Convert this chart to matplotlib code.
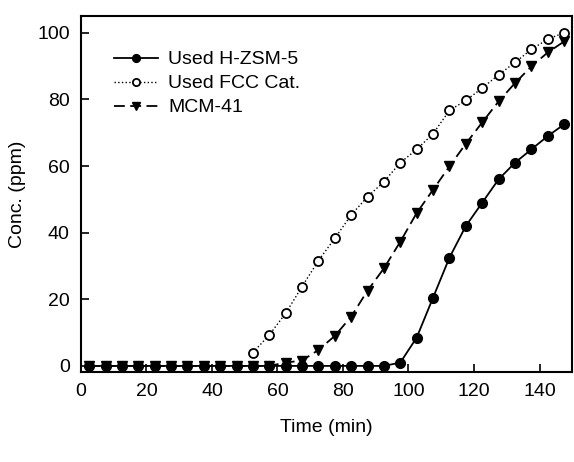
import matplotlib
matplotlib.use("Agg")
import matplotlib.pyplot as plt
import numpy as np

plt.rcParams['font.family'] = ['Liberation Sans', 'DejaVu Sans']

time = [2.5 + 5 * i for i in range(30)]

hzsm5 = [0] * 19 + [1, 8.5, 20.5, 32.5, 42, 49, 56, 61, 65, 69, 72.5]
fcc_t = time[10:]
fcc = [4, 9.3, 15.8, 23.8, 31.6, 38.3, 45.3, 50.8, 55.3, 61, 65, 69.7,
       76.7, 79.7, 83.4, 87.4, 91.1, 95, 98.1, 100]
mcm = [0] * 12 + [1, 1.6, 4.8, 9, 14.8, 22.6, 29.3, 37.3, 45.9, 52.9, 59.9,
                  66.7, 73.1, 79.4, 84.9, 89.9, 94.1, 97.4]

fig = plt.figure(figsize=(5.74, 4.62), dpi=100)
ax = fig.add_axes([0.141, 0.195, 0.856, 0.77])

ax.plot(time, mcm, '--', color='black', lw=1.3, marker='v', ms=7.5,
        mfc='black', mec='black', dashes=(6, 3), label='MCM-41', zorder=3)
ax.plot(time, hzsm5, '-', color='black', lw=1.3, marker='o', ms=7,
        mfc='black', mec='black', label='Used H-ZSM-5', zorder=4)
ax.plot(fcc_t, fcc, ':', color='black', lw=1.0, marker='o', ms=6.5,
        mfc='white', mec='black', mew=1.3, label='Used FCC Cat.', zorder=3)

ax.set_xlim(0, 150)
ax.set_ylim(-1.8, 105)
ax.set_xticks([0, 20, 40, 60, 80, 100, 120, 140])
ax.set_yticks([0, 20, 40, 60, 80, 100])
ax.tick_params(direction='in', length=6, width=1.2, labelsize=14, pad=8)
for s in ax.spines.values():
    s.set_linewidth(1.5)

ax.set_xlabel('Time (min)', fontsize=14, labelpad=14)
ax.set_ylabel('Conc. (ppm)', fontsize=14, labelpad=8)

h, l = ax.get_legend_handles_labels()
order = [1, 2, 0]
leg = ax.legend([h[i] for i in order], [l[i] for i in order],
                loc='upper left', bbox_to_anchor=(0.047, 0.93), frameon=False,
                fontsize=14, handlelength=2.3, handletextpad=0.5,
                labelspacing=0.33, borderpad=0, markerscale=0.8)

fig.savefig('out.png', dpi=100)
